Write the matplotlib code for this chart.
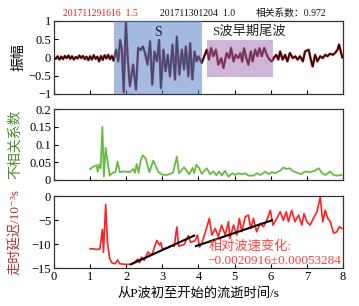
import matplotlib
matplotlib.use("Agg")
import matplotlib.pyplot as plt
from matplotlib.patches import Rectangle

plt.rcParams['font.family'] = ['Liberation Serif', 'Noto Sans CJK SC', 'DejaVu Sans']
plt.rcParams['font.size'] = 9
plt.rcParams['axes.unicode_minus'] = True

# waveform (normalised amplitude) vs time since P onset
wave_t = [0.00, 0.05, 0.10, 0.15, 0.20, 0.25, 0.30, 0.35, 0.40, 0.45, 0.50, 0.55,
          0.60, 0.65, 0.70, 0.75, 0.80, 0.85, 0.90, 0.95, 1.00, 1.05, 1.10, 1.15,
          1.20, 1.25, 1.30, 1.35, 1.40, 1.45, 1.50, 1.55, 1.60, 1.65,
          1.72, 1.78, 1.83, 1.88, 1.93, 1.99, 2.04, 2.10, 2.19, 2.27, 2.33, 2.40,
          2.46, 2.52, 2.59, 2.66, 2.72, 2.78, 2.85, 2.91, 2.96, 3.03, 3.09, 3.15,
          3.21, 3.28, 3.35, 3.40, 3.47, 3.54, 3.60, 3.65, 3.72, 3.77, 3.83, 3.89,
          3.95, 4.00, 4.09, 4.16, 4.23, 4.29, 4.35, 4.41, 4.48, 4.55, 4.63, 4.69,
          4.78, 4.85, 4.90, 4.97, 5.03, 5.10, 5.16, 5.21, 5.26, 5.32, 5.38, 5.45,
          5.50, 5.57, 5.63, 5.69, 5.75, 5.82, 5.89, 5.97, 6.03, 6.08, 6.15, 6.21,
          6.26, 6.33, 6.40, 6.46, 6.53, 6.61, 6.68, 6.74, 6.81, 6.89, 6.95, 7.05,
          7.11, 7.16, 7.23, 7.29, 7.37, 7.44, 7.51, 7.57, 7.64, 7.72, 7.78, 7.85,
          7.89, 7.94, 7.98]
wave_a = [0.00, -0.04, 0.03, -0.06, 0.02, -0.05, 0.04, -0.02, 0.05, -0.04, 0.03, -0.06,
          0.01, -0.03, 0.05, -0.02, 0.04, -0.05, 0.02, -0.08, 0.03, -0.06, 0.06, -0.04,
          0.02, -0.11, 0.04, -0.07, 0.06, -0.03, 0.07, -0.05, 0.04, -0.09,
          0.21, -0.11, 0.48, 0.21, -0.95, 0.98, 0.00, -0.79, -0.20, -0.88, 0.26, 0.20,
          0.30, 0.12, -0.20, 0.44, -0.75, 0.16, -0.11, 0.48, -0.84, 0.21, -0.38, 0.07,
          -0.52, 0.35, -0.61, 0.57, -0.47, 0.21, -0.34, 0.30, -0.52, 0.39, -0.61, 0.16,
          -0.11, 0.03, -0.15, 0.03, 0.21, -0.06, 0.26, 0.03, 0.21, -0.20, -0.02, -0.29,
          0.12, -0.02, 0.26, -0.11, 0.07, -0.02, 0.12, -0.12, 0.25, 0.00, -0.20, 0.16,
          -0.11, 0.21, 0.03, 0.25, 0.03, 0.26, 0.07, -0.07, -0.11, -0.02, 0.07, -0.06,
          0.16, -0.06, 0.07, -0.11, 0.12, -0.02, 0.03, -0.06, 0.03, -0.11, 0.16, 0.21,
          -0.06, -0.25, 0.07, -0.11, 0.03, -0.02, 0.07, 0.03, 0.10, 0.07, 0.12, 0.21,
          0.35, 0.16, 0.00]

# decorrelation coefficient
dc_t = [1.00, 1.10, 1.18, 1.21, 1.25, 1.29, 1.34, 1.38, 1.43, 1.54, 1.62, 1.70, 1.76,
        1.82, 1.95, 2.10, 2.20, 2.24, 2.29, 2.34, 2.40, 2.46, 2.54, 2.64, 2.75, 2.89,
        3.00, 3.10, 3.20, 3.30, 3.40, 3.46, 3.60, 3.74, 3.84, 3.88, 3.94, 4.02, 4.09,
        4.23, 4.32, 4.41, 4.50, 4.57, 4.65, 4.73, 4.83, 4.94, 5.02, 5.10, 5.20, 5.29,
        5.38, 5.52, 5.62, 5.71, 5.85, 5.94, 6.03, 6.12, 6.26, 6.35, 6.44, 6.53, 6.62,
        6.72, 6.84, 6.95, 7.08, 7.22, 7.33, 7.42, 7.52, 7.64, 7.74, 7.83, 7.96]
dc_v = [0.031, 0.038, 0.042, 0.023, 0.044, 0.033, 0.150, 0.009, 0.091, 0.012, 0.020,
        0.022, 0.052, 0.022, 0.024, 0.022, 0.031, 0.020, 0.045, 0.020, 0.055, 0.070,
        0.060, 0.022, 0.055, 0.022, 0.015, 0.014, 0.016, 0.021, 0.066, 0.019, 0.036,
        0.016, 0.034, 0.019, 0.043, 0.033, 0.017, 0.033, 0.016, 0.024, 0.013, 0.024,
        0.012, 0.026, 0.009, 0.019, 0.014, 0.019, 0.016, 0.019, 0.012, 0.012, 0.019,
        0.014, 0.024, 0.016, 0.022, 0.019, 0.026, 0.035, 0.031, 0.033, 0.024, 0.021,
        0.016, 0.024, 0.022, 0.026, 0.033, 0.019, 0.014, 0.024, 0.014, 0.012, 0.014]

# travel time delay (1e-3 s)
dt_t = [1.00, 1.10, 1.20, 1.27, 1.34, 1.37, 1.43, 1.48, 1.54, 1.60, 1.70, 1.76, 1.82,
        1.94, 2.13, 2.22, 2.32, 2.37, 2.42, 2.50, 2.60, 2.70, 2.85, 2.92, 2.96, 3.00,
        3.14, 3.24, 3.33, 3.40, 3.45, 3.60, 3.72, 3.78, 3.90, 3.97, 4.03, 4.09, 4.18,
        4.30, 4.37, 4.46, 4.55, 4.64, 4.74, 4.83, 4.87, 4.97, 5.06, 5.13, 5.20, 5.29,
        5.38, 5.45, 5.52, 5.61, 5.71, 5.80, 5.91, 5.99, 6.06, 6.17, 6.26, 6.35, 6.43,
        6.49, 6.58, 6.67, 6.77, 6.86, 6.92, 7.00, 7.09, 7.18, 7.28, 7.37, 7.44, 7.51,
        7.58, 7.65, 7.74, 7.83, 7.90, 7.97]
dt_v = [-10.96, -11.0, -11.1, -11.0, -6.9, -11.7, -1.7, -9.6, -13.0, -13.9, -14.1, -13.3,
        -14.1, -14.2, -14.25, -13.9, -13.1, -13.9, -12.7, -13.4, -11.65, -12.35, -9.2,
        -10.2, -9.7, -11.0, -10.8, -10.4, -10.4, -6.4, -10.4, -10.1, -8.2, -9.6, -9.3,
        -8.1, -10.6, -9.8, -7.7, -4.6, -8.1, -6.7, -8.4, -6.0, -8.1, -5.3, -8.8, -6.0,
        -8.1, -4.6, -7.4, -4.3, -3.9, -6.7, -4.6, -7.4, -5.65, -6.35, -4.6, -2.9, -6.0,
        -4.6, -3.2, -5.0, -3.2, -5.3, -2.9, -5.3, -3.9, -6.0, -3.6, -5.3, -6.0, -4.6,
        -3.2, -0.1, -5.3, -2.9, -4.6, -5.3, -7.7, -7.4, -6.35, -6.7]

# linear fits
fit1_t = [2.13, 3.88]
fit1_v = [-14.2, -8.2]
fit2_t = [3.93, 6.03]
fit2_v = [-10.4, -5.0]

fig = plt.figure(figsize=(3.59, 3.06), dpi=100)
ax1 = fig.add_axes([0.1504, 0.693, 0.805, 0.239])
ax2 = fig.add_axes([0.1504, 0.412, 0.805, 0.231])
ax3 = fig.add_axes([0.1504, 0.124, 0.805, 0.234])

for ax in (ax1, ax2, ax3):
    ax.set_xlim(0, 8)
    ax.set_xticks(range(0, 9))
    ax.tick_params(direction='in', length=3, width=0.8, labelsize=9, pad=2)
    for s in ax.spines.values():
        s.set_color('#333333')
        s.set_linewidth(0.9)

# top panel: traces under translucent window boxes
ax1.plot(wave_t, wave_a, color='#ff2020', lw=1.8)
ax1.plot(wave_t, wave_a, color='#111111', lw=1.1)
ax1.add_patch(Rectangle((1.66, -1), 4.09 - 1.66, 2, facecolor='#5b82c8',
                        alpha=0.55, lw=0, zorder=3))
ax1.add_patch(Rectangle((4.23, -0.53), 6.06 - 4.23, 1.01, facecolor='#a06cb0',
                        alpha=0.5, lw=0, zorder=3))
ax1.set_ylim(-1, 1)
ax1.set_yticks([-1, -0.5, 0, 0.5, 1])
ax1.set_yticklabels(['−1', '−0.5', '0', '0.5', '1'])
ax1.set_xticklabels([])
ax1.text(2.88, 0.69, 'S', fontsize=10, ha='center', va='center', color='#222222', zorder=4)
ax1.text(4.37, 0.69, 'S波早期尾波', fontsize=9.5, ha='left', va='center', color='#222222', zorder=4)
ax1.set_ylabel('振幅', fontsize=10)
ax1.yaxis.set_label_coords(-0.10, 0.5)

fig.text(0.175, 0.957, '201711291616  1.5', color='#e02020', fontsize=7, va='center')
fig.text(0.446, 0.957, '201711301204  1.0', color='#111111', fontsize=7, va='center')
fig.text(0.712, 0.957, '相关系数：0.972', color='#111111', fontsize=7, va='center')

# middle panel
ax2.plot(dc_t, dc_v, color='#66bb44', lw=1.3)
ax2.set_ylim(0, 0.2)
ax2.set_yticks([0, 0.05, 0.1, 0.15, 0.2])
ax2.set_yticklabels(['0', '0.05', '0.1', '0.15', '0.2'])
ax2.set_xticklabels([])
ax2.set_ylabel('不相关系数', fontsize=10, color='#4a8c2a')
ax2.yaxis.set_label_coords(-0.11, 0.5)

# bottom panel
ax3.plot(dt_t, dt_v, color='#ff2020', lw=1.2)
ax3.plot(fit1_t, fit1_v, color='black', lw=1.5)
ax3.plot(fit2_t, fit2_v, color='black', lw=1.5)
ax3.set_ylim(-15, 0)
ax3.set_yticks([-15, -10, -5, 0])
ax3.set_yticklabels(['−15', '−10', '−5', '0'])
ax3.text(4.27, -10.5, '相对波速变化:', color='#ff4040', fontsize=9.5, va='center')
ax3.text(4.24, -13.5, '−0.0020916±0.00053284', color='#ff4040', fontsize=9.5, va='center')
ax3.set_ylabel('走时延迟/10⁻³s', fontsize=9.5, color='#b03030')
ax3.yaxis.set_label_coords(-0.11, 0.5)
ax3.set_xlabel('从P波初至开始的流逝时间/s', fontsize=9.5, labelpad=3)

fig.savefig('out.png', dpi=100)
